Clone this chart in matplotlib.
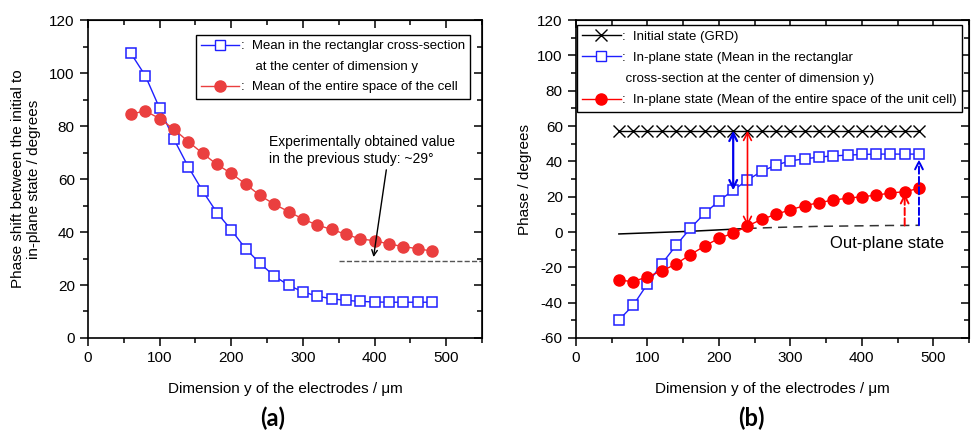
import numpy as np
import matplotlib
matplotlib.use('Agg')
import matplotlib.pyplot as plt
from matplotlib.lines import Line2D
from matplotlib.ticker import MultipleLocator

plt.rcParams['font.family'] = ['Liberation Sans', 'DejaVu Sans']
plt.rcParams['axes.unicode_minus'] = False

# data
dim_y = np.arange(60, 481, 20)

# panel (a): phase shift between initial and in-plane state
shift_rect = [107.4, 99.0, 86.7, 75.0, 64.6, 55.5, 47.3, 40.8, 33.7, 28.2, 23.4,
              19.9, 17.4, 15.8, 14.8, 14.2, 13.8, 13.6, 13.5, 13.5, 13.5, 13.5]
shift_cell = [84.5, 85.7, 82.8, 78.8, 74.1, 69.7, 65.5, 62.1, 58.1, 53.8, 50.5,
              47.7, 44.9, 42.6, 41.0, 39.1, 37.4, 36.7, 35.5, 34.5, 33.7, 32.8]
exp_value = 29

# panel (b): phase
phase_init = [57.3] * 22
phase_rect = [-49.8, -41.5, -29.4, -18.1, -7.6, 2.1, 10.5, 17.6, 23.6, 29.4, 34.4,
              37.9, 40.3, 41.4, 42.4, 43.1, 43.5, 43.9, 44.1, 44.1, 44.1, 44.1]
phase_cell = [-27.2, -28.1, -25.3, -22.1, -18.1, -12.8, -8.0, -3.5, -0.7, 3.4, 7.2,
              10.0, 12.6, 14.9, 16.6, 18.1, 19.1, 20.0, 20.8, 22.1, 22.8, 24.7]
phase_out = [-1.1, -0.8, -0.5, -0.2, 0.1, 0.4, 0.8, 1.2, 1.6, 2.0, 2.3,
             2.6, 2.8, 3.0, 3.2, 3.3, 3.4, 3.5, 3.6, 3.7, 3.7, 3.8]

blue = '#1f1fff'
red_a = '#ea3f3f'
red_b = '#ff0000'

fig = plt.figure(figsize=(9.72, 4.34), dpi=100)
ax1 = fig.add_axes([0.0905, 0.2212, 0.4054, 0.7327])
ax2 = fig.add_axes([0.5926, 0.2212, 0.4043, 0.7327])


def style_axes(ax, ylim, ymajor, yminor):
    ax.set_xlim(0, 550)
    ax.set_ylim(*ylim)
    ax.xaxis.set_major_locator(MultipleLocator(100))
    ax.xaxis.set_minor_locator(MultipleLocator(50))
    ax.yaxis.set_major_locator(MultipleLocator(ymajor))
    ax.yaxis.set_minor_locator(MultipleLocator(yminor))
    ax.tick_params(which='major', direction='out', length=6, width=1.1, labelsize=11)
    ax.tick_params(which='minor', direction='out', length=3.5, width=1.1)
    for s in ax.spines.values():
        s.set_linewidth(1.2)
    top = ax.secondary_xaxis('top')
    top.xaxis.set_major_locator(MultipleLocator(100))
    top.xaxis.set_minor_locator(MultipleLocator(50))
    top.tick_params(which='major', direction='in', length=6, width=1.1, labeltop=False)
    top.tick_params(which='minor', direction='in', length=3.5, width=1.1)
    right = ax.secondary_yaxis('right')
    right.yaxis.set_major_locator(MultipleLocator(ymajor))
    right.yaxis.set_minor_locator(MultipleLocator(yminor))
    right.tick_params(which='major', direction='in', length=6, width=1.1, labelright=False)
    right.tick_params(which='minor', direction='in', length=3.5, width=1.1)
    ax.set_xlabel('Dimension y of the electrodes / \u03bcm', fontsize=11, labelpad=12)


# ---- (a)
style_axes(ax1, (0, 120), 20, 10)
ax1.plot(dim_y, shift_rect, color=blue, lw=1, marker='s', ms=6.5,
         mfc='white', mec=blue, mew=1.1)
ax1.plot(dim_y, shift_cell, color=red_a, lw=1, marker='o', ms=8,
         mfc=red_a, mec=red_a)
ax1.plot([350, 550], [exp_value, exp_value], ls='--', color='#555555', lw=1)
ax1.annotate('', xy=(398, exp_value + 0.5), xytext=(417, 64.5),
             arrowprops=dict(arrowstyle='->', color='black', lw=1))
ax1.text(252, 76.5, 'Experimentally obtained value\nin the previous study: ~29\u00b0',
         fontsize=10, va='top', ha='left', linespacing=1.25)
ax1.set_ylabel('Phase shift between the initial to\nin-plane state / degrees',
               fontsize=11, labelpad=6)

h_a = [Line2D([], [], color=blue, lw=1, marker='s', ms=6.5, mfc='white', mec=blue),
       Line2D([], [], ls='none'),
       Line2D([], [], color=red_a, lw=1, marker='o', ms=8, mfc=red_a, mec=red_a)]
l_a = [':  Mean in the rectanglar cross-section',
       '    at the center of dimension y',
       ':  Mean of the entire space of the cell']
leg = ax1.legend(h_a, l_a, loc='upper right', bbox_to_anchor=(0.9695, 0.953),
                 borderaxespad=0, fontsize=9.5, frameon=True, fancybox=False,
                 framealpha=1, edgecolor='black', handlelength=2.9,
                 handletextpad=0.1, labelspacing=0.62, borderpad=0.4, numpoints=1)
leg.get_frame().set_linewidth(1)

# ---- (b)
style_axes(ax2, (-60, 120), 20, 10)
ax2.plot(dim_y, phase_init, color='black', lw=1, marker='x', ms=8, mew=1)
ax2.plot(dim_y[:10], phase_out[:10], color='black', lw=1.1)
ax2.plot(dim_y[9:], phase_out[9:], color='#333333', lw=1.1, ls=(0, (6, 4)))
ax2.plot(dim_y, phase_rect, color=blue, lw=1, marker='s', ms=6.5,
         mfc='white', mec=blue, mew=1.1)
ax2.plot(dim_y, phase_cell, color=red_b, lw=1, marker='o', ms=8,
         mfc=red_b, mec=red_b)

i220 = list(dim_y).index(220)
i240 = list(dim_y).index(240)
ax2.annotate('', xy=(220, phase_rect[i220]), xytext=(220, phase_init[i220]),
             arrowprops=dict(arrowstyle='<->', color='#0000ee', lw=1.6,
                             shrinkA=0, shrinkB=0, mutation_scale=14))
ax2.annotate('', xy=(240, phase_cell[i240]), xytext=(240, phase_init[i240]),
             arrowprops=dict(arrowstyle='<->', color=red_b, lw=1.2,
                             shrinkA=0, shrinkB=0, mutation_scale=14))
ax2.annotate('', xy=(460, phase_cell[-2] - 1), xytext=(460, phase_out[-2]),
             arrowprops=dict(arrowstyle='->', color=red_b, lw=1.4, ls='--',
                             shrinkA=0, shrinkB=0, mutation_scale=14))
ax2.annotate('', xy=(480, phase_rect[-1] - 3), xytext=(480, phase_out[-1]),
             arrowprops=dict(arrowstyle='->', color='#0000ee', lw=1.4, ls='--',
                             shrinkA=0, shrinkB=0, mutation_scale=14))
ax2.text(355, -6.5, 'Out-plane state', fontsize=12, ha='left', va='center')
ax2.set_ylabel('Phase / degrees', fontsize=11, labelpad=4)

h_b = [Line2D([], [], color='black', lw=1, marker='x', ms=8),
       Line2D([], [], color=blue, lw=1, marker='s', ms=6.5, mfc='white', mec=blue),
       Line2D([], [], ls='none'),
       Line2D([], [], color=red_b, lw=1, marker='o', ms=8, mfc=red_b, mec=red_b)]
l_b = [':  Initial state (GRD)',
       ':  In-plane state (Mean in the rectanglar',
       ' cross-section at the center of dimension y)',
       ':  In-plane state (Mean of the entire space of the unit cell)']
leg = ax2.legend(h_b, l_b, loc='upper left', bbox_to_anchor=(0.0025, 0.984),
                 borderaxespad=0, fontsize=9.5, frameon=True, fancybox=False,
                 framealpha=1, edgecolor='black', handlelength=2.9,
                 handletextpad=0.1, labelspacing=0.68, borderpad=0.4, numpoints=1)
leg.get_frame().set_linewidth(1)

fig.text(0.28, 0.037, '(a)', fontsize=17, fontweight='bold', ha='center',
         va='center', family=['Lato', 'DejaVu Sans'])
fig.text(0.773, 0.037, '(b)', fontsize=17, fontweight='bold', ha='center',
         va='center', family=['Lato', 'DejaVu Sans'])

fig.savefig('out.png', dpi=100)
